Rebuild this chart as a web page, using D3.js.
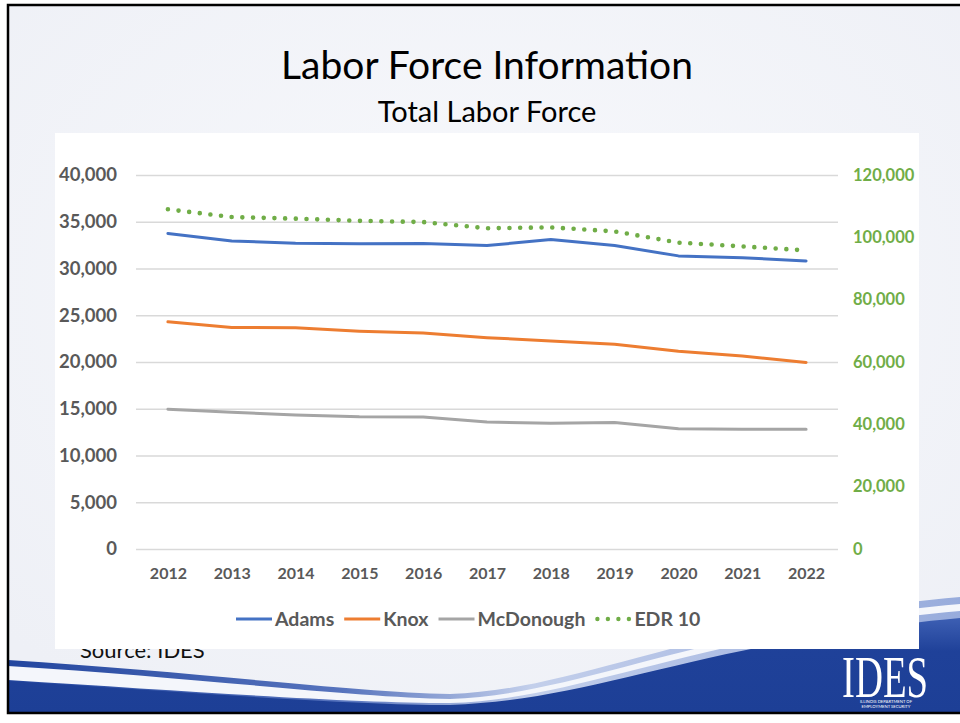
<!DOCTYPE html>
<html>
<head>
<meta charset="utf-8">
<script src="https://cdn.jsdelivr.net/npm/d3@7"></script>
<style>
  body { margin: 0; background: #fff; }
  svg { display: block; }
</style>
</head>
<body>
<div id="paper"></div>
<script>
// data
const years = ["2012","2013","2014","2015","2016","2017","2018","2019","2020","2021","2022"];
const adams = [33750, 32950, 32700, 32650, 32680, 32450, 33100, 32450, 31350, 31150, 30800];
const knox = [24300, 23700, 23650, 23300, 23100, 22600, 22250, 21900, 21150, 20650, 19950];
const mcdonough = [14950, 14620, 14330, 14150, 14130, 13580, 13450, 13520, 12870, 12800, 12800];
const edr10 = [109000, 106500, 106000, 105300, 104900, 102900, 103200, 101900, 98300, 97100, 95800];

const leftTicks = [0, 5000, 10000, 15000, 20000, 25000, 30000, 35000, 40000];
const rightTicks = [0, 20000, 40000, 60000, 80000, 100000, 120000];

const series = [
  {name: "Adams", values: adams, color: "#4472c4", axis: "left"},
  {name: "Knox", values: knox, color: "#ed7d31", axis: "left"},
  {name: "McDonough", values: mcdonough, color: "#a5a5a5", axis: "left"},
  {name: "EDR 10", values: edr10, color: "#70ad47", axis: "right", dotted: true}
];

const W = 960, H = 723;
const font = "Lato, 'Open Sans', sans-serif";
const gray = "#595959";

const svg = d3.select("#paper").append("svg")
  .attr("width", W).attr("height", H)
  .style("font-family", font);

// slide background + frame
svg.append("rect").attr("width", W).attr("height", H).attr("fill", "#fff");
const defs = svg.append("defs");
const bg = defs.append("radialGradient").attr("id", "bg").attr("cx", "50%").attr("cy", "40%").attr("r", "70%");
bg.append("stop").attr("offset", "0%").attr("stop-color", "#f8f9fc");
bg.append("stop").attr("offset", "100%").attr("stop-color", "#eef0f6");
svg.append("rect").attr("x", 8).attr("y", 5).attr("width", W).attr("height", 708)
  .attr("fill", "url(#bg)");

// swoosh at the bottom
const sw = defs.append("linearGradient").attr("id", "sw").attr("x1", "0").attr("x2", "1").attr("y1", "0").attr("y2", "0");
sw.append("stop").attr("offset", "0%").attr("stop-color", "#23469f");
sw.append("stop").attr("offset", "35%").attr("stop-color", "#5673bd");
sw.append("stop").attr("offset", "55%").attr("stop-color", "#c3cfeb");
sw.append("stop").attr("offset", "100%").attr("stop-color", "#98acdc");
svg.append("path")
  .attr("d", "M8,660 C200,672 350,692 450,694 C580,690 700,620 960,597 L960,713 L8,713 Z")
  .attr("fill", "url(#sw)");
svg.append("path")
  .attr("d", "M8,666 C200,678 350,697 450,699 C580,695 700,627 960,604 L960,611 C700,634 580,700 450,703 C350,703 200,692 8,680 Z")
  .attr("fill", "#f4f6fb");
const sb = defs.append("linearGradient").attr("id", "sb").attr("x1", "0").attr("x2", "0").attr("y1", "0").attr("y2", "1");
sb.append("stop").attr("offset", "0%").attr("stop-color", "#3d5fb3");
sb.append("stop").attr("offset", "35%").attr("stop-color", "#1f4199");
sb.append("stop").attr("offset", "100%").attr("stop-color", "#1d3f96");
svg.append("path")
  .attr("d", "M8,681 C200,693 350,705 450,705 C600,700 700,642 960,618 L960,713 L8,713 Z")
  .attr("fill", "url(#sb)");
svg.append("rect").attr("x", 8).attr("y", 5).attr("width", W).attr("height", 708)
  .attr("fill", "none").attr("stroke", "#000").attr("stroke-width", 2.5);

// titles
svg.append("text").attr("x", 487).attr("y", 79).attr("text-anchor", "middle")
  .attr("font-size", 39).attr("fill", "#000").text("Labor Force Information");
svg.append("text").attr("x", 487).attr("y", 122).attr("text-anchor", "middle")
  .attr("font-size", 29).attr("fill", "#000").text("Total Labor Force");

svg.append("text").attr("x", 80).attr("y", 658)
  .attr("font-size", 22).attr("fill", "#111").text("Source: IDES");

// IDES logo
svg.append("text")
  .attr("transform", "translate(842,697) scale(0.68,1.05)")
  .attr("font-family", "'Liberation Serif', 'DejaVu Serif', serif")
  .attr("font-size", 57).attr("fill", "#fff").text("IDES");
svg.append("text").attr("x", 886).attr("y", 702.5).attr("text-anchor", "middle")
  .attr("font-size", 4.2).attr("fill", "#fff").text("ILLINOIS DEPARTMENT OF");
svg.append("text").attr("x", 886).attr("y", 707.5).attr("text-anchor", "middle")
  .attr("font-size", 4.2).attr("fill", "#fff").text("EMPLOYMENT SECURITY");

// chart area
svg.append("rect").attr("x", 55).attr("y", 133).attr("width", 864).attr("height", 516).attr("fill", "#fff");

const x = d3.scalePoint(years, [136, 838]).padding(0.5);
const yL = d3.scaleLinear([0, 40000], [549, 175]);
const yR = d3.scaleLinear([0, 120000], [549, 175]);

const gl = svg.append("g").attr("transform", "translate(136,0)")
  .call(d3.axisLeft(yL).tickValues(leftTicks).tickSize(-702).tickPadding(19).tickFormat(d3.format(",")));
gl.select(".domain").remove();
gl.selectAll("line").attr("stroke", "#d9d9d9").attr("stroke-width", 1.3);
gl.selectAll("text").attr("font-size", 18.5).attr("font-weight", "bold").attr("fill", gray).attr("font-family", font);

const gr = svg.append("g").attr("transform", "translate(838,0)")
  .call(d3.axisRight(yR).tickValues(rightTicks).tickSize(0).tickPadding(15).tickFormat(d3.format(",")));
gr.select(".domain").remove();
gr.selectAll("text").attr("font-size", 16.5).attr("font-weight", "bold").attr("fill", "#70ad47").attr("font-family", font);

const gb = svg.append("g").attr("transform", "translate(0,549)")
  .call(d3.axisBottom(x).tickSize(0).tickPadding(19));
gb.select(".domain").remove();
gb.selectAll("text").attr("font-size", 16).attr("font-weight", "bold").attr("fill", gray).attr("font-family", font);

// lines
series.forEach(s => {
  const y = s.axis == "left" ? yL : yR;
  const line = d3.line().x((d, i) => x(years[i])).y(d => y(d));
  const p = svg.append("path").datum(s.values)
    .attr("d", line)
    .attr("fill", "none")
    .attr("stroke", s.color)
    .attr("stroke-linejoin", "round")
    .attr("stroke-linecap", "round");
  if (s.dotted)
    p.attr("stroke-width", 4.6).attr("stroke-dasharray", "0 10.7");
  else
    p.attr("stroke-width", 3);
});

// legend
let lx = 236;
const ly = 619;
series.forEach(s => {
  const g = svg.append("g");
  const ln = g.append("line").attr("x1", lx).attr("x2", lx + 36).attr("y1", ly).attr("y2", ly)
    .attr("stroke", s.color);
  if (s.dotted)
    ln.attr("x1", lx + 2).attr("stroke-width", 4.4).attr("stroke-linecap", "round").attr("stroke-dasharray", "0 10.5");
  else
    ln.attr("stroke-width", 3);
  const t = g.append("text").attr("x", lx + 39).attr("y", ly).attr("dy", "0.35em")
    .attr("font-size", 19.5).attr("font-weight", "bold").attr("fill", gray).text(s.name);
  lx += 39 + t.node().getComputedTextLength() + 10;
});
</script>
</body>
</html>
